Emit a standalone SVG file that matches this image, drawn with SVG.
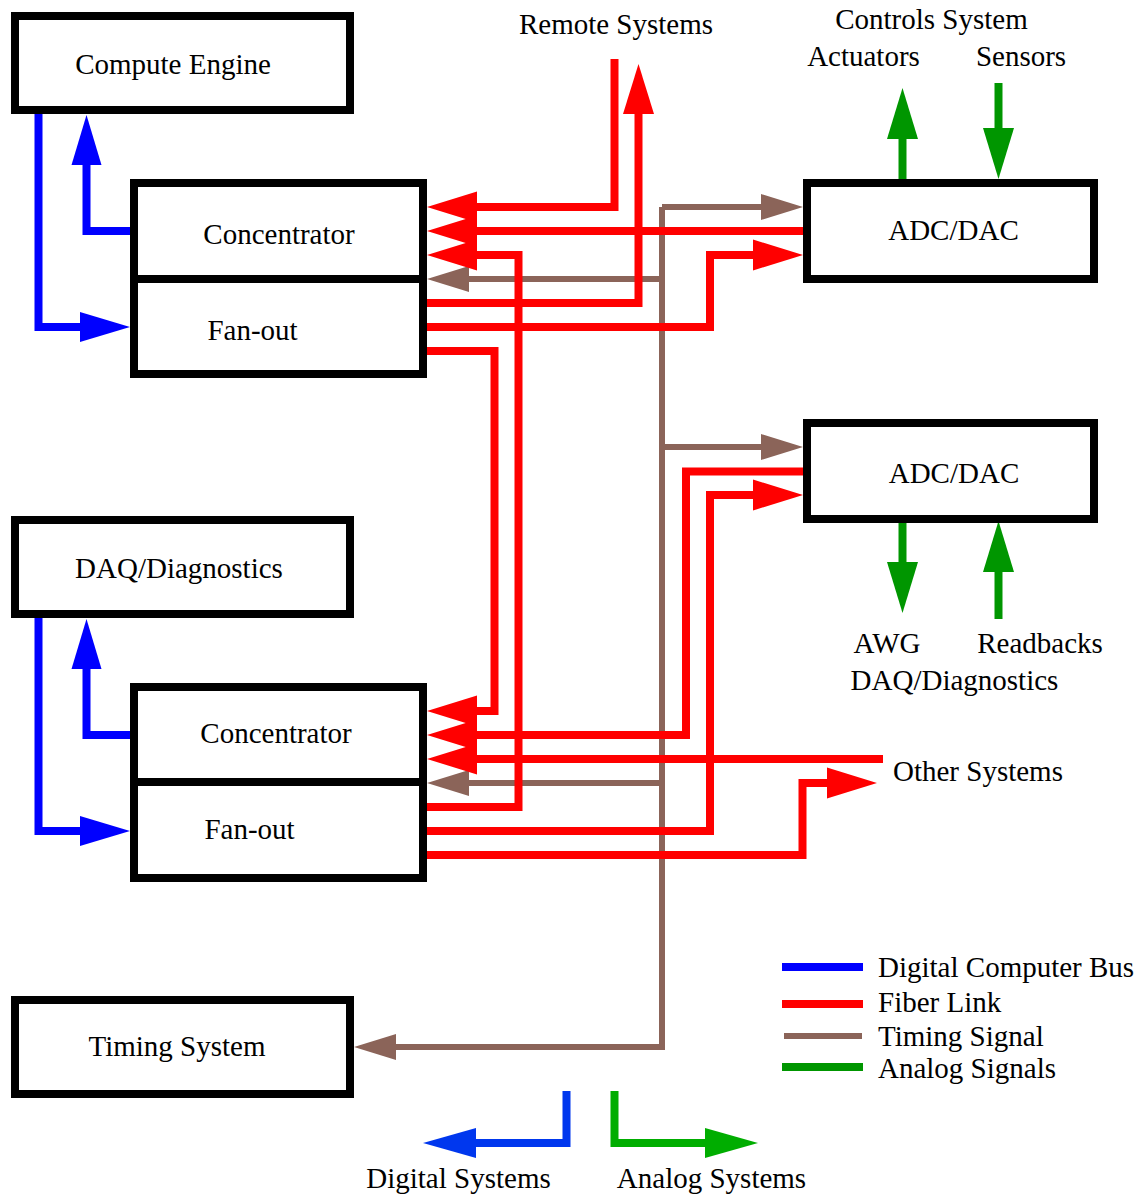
<svg xmlns="http://www.w3.org/2000/svg" width="1146" height="1197" viewBox="0 0 1146 1197">
<style>
  text { font-family: "Liberation Serif", "Times New Roman", serif; font-size: 29px; fill: #000; }
  .c { text-anchor: middle; }
  .box { fill: #fff; stroke: #000; stroke-width: 8; }
  .w { fill: none; stroke-linejoin: miter; stroke-linecap: butt; }
  .red { stroke: #ff0000; stroke-width: 8; marker-end: url(#aR); }
  .blue { stroke: #0000ff; stroke-width: 8; marker-end: url(#aBl); }
  .brown { stroke: #8b6459; stroke-width: 6; }
  .brA { marker-end: url(#aBr); }
  .green { stroke: #009600; stroke-width: 8; marker-end: url(#aG); }
</style>
<defs>
  <marker id="aR" markerUnits="userSpaceOnUse" orient="auto" refX="0" refY="0" markerWidth="60" markerHeight="40" viewBox="0 -20 60 40" overflow="visible"><path d="M0,-15.5 L50,0 L0,15.5 z" fill="#ff0000"/></marker>
  <marker id="aBl" markerUnits="userSpaceOnUse" orient="auto" refX="0" refY="0" markerWidth="60" markerHeight="40" viewBox="0 -20 60 40" overflow="visible"><path d="M0,-15 L50,0 L0,15 z" fill="#0000ff"/></marker>
  <marker id="aBr" markerUnits="userSpaceOnUse" orient="auto" refX="0" refY="0" markerWidth="60" markerHeight="40" viewBox="0 -20 60 40" overflow="visible"><path d="M0,-13 L42,0 L0,13 z" fill="#8b6459"/></marker>
  <marker id="aG" markerUnits="userSpaceOnUse" orient="auto" refX="0" refY="0" markerWidth="60" markerHeight="40" viewBox="0 -20 60 40" overflow="visible"><path d="M0,-15.5 L51,0 L0,15.5 z" fill="#009600"/></marker>
  <marker id="aBl2" markerUnits="userSpaceOnUse" orient="auto" refX="0" refY="0" markerWidth="60" markerHeight="40" viewBox="0 -20 60 40" overflow="visible"><path d="M0,-15 L53,0 L0,15 z" fill="#0037ee"/></marker>
  <marker id="aG2" markerUnits="userSpaceOnUse" orient="auto" refX="0" refY="0" markerWidth="60" markerHeight="40" viewBox="0 -20 60 40" overflow="visible"><path d="M0,-15 L53,0 L0,15 z" fill="#00ad00"/></marker>
</defs>

<g id="connectors">
  <!-- blue digital bus -->
  <path class="w blue" d="M38.5,110 V327 H80"/>
  <path class="w blue" d="M134,231 H86.5 V165"/>
  <path class="w blue" d="M38.5,614 V831 H80"/>
  <path class="w blue" d="M134,735 H86.5 V669"/>
  <!-- brown timing -->
  <path class="w brown" d="M662,207 V1047 H396" style="marker-end:url(#aBr)"/>
  <path class="w brown brA" d="M662,207 H761"/>
  <path class="w brown brA" d="M662,279 H469"/>
  <path class="w brown brA" d="M662,447 H761"/>
  <path class="w brown brA" d="M662,783 H469"/>
  <!-- red fiber -->
  <path class="w red" d="M614.5,59 V207 H477"/>
  <path class="w red" d="M803,231 H477"/>
  <path class="w red" d="M427,807 H518.5 V255 H477"/>
  <path class="w red" d="M427,303 H638.5 V114"/>
  <path class="w red" d="M427,327 H710 V255 H753"/>
  <path class="w red" d="M427,351 H494.5 V711 H477"/>
  <path class="w red" d="M803,471.5 H686 V735 H477"/>
  <path class="w red" d="M883,759 H477"/>
  <path class="w red" d="M427,831 H710 V495 H753"/>
  <path class="w red" d="M427,855 H802.5 V783 H827"/>
  <!-- green analog -->
  <path class="w green" d="M902.5,183 V139"/>
  <path class="w green" d="M998.5,83 V128"/>
  <path class="w green" d="M902.5,519 V562"/>
  <path class="w green" d="M998.5,619 V572"/>
  <!-- bottom -->
  <path class="w" d="M566.5,1091 V1143 H476" stroke="#0037ee" stroke-width="8" marker-end="url(#aBl2)"/>
  <path class="w" d="M614.5,1091 V1143 H705" stroke="#00ad00" stroke-width="8" marker-end="url(#aG2)"/>
</g>

<g id="compute-engine"><rect class="box" x="15" y="16" width="335" height="94"/><text class="c" x="173" y="74">Compute Engine</text></g>
<g id="concentrator-1"><rect class="box" x="134" y="183" width="289" height="96"/><text class="c" x="279" y="244">Concentrator</text></g>
<g id="fanout-1"><rect class="box" x="134" y="279" width="289" height="95"/><text class="c" x="252.5" y="340">Fan-out</text></g>
<g id="adcdac-1"><rect class="box" x="807" y="183" width="287" height="96"/><text class="c" x="953.5" y="240">ADC/DAC</text></g>
<g id="adcdac-2"><rect class="box" x="807" y="423" width="287" height="96"/><text class="c" x="954" y="483">ADC/DAC</text></g>
<g id="daq"><rect class="box" x="15" y="520" width="335" height="94"/><text class="c" x="179" y="578">DAQ/Diagnostics</text></g>
<g id="concentrator-2"><rect class="box" x="134" y="687" width="289" height="95"/><text class="c" x="276" y="743">Concentrator</text></g>
<g id="fanout-2"><rect class="box" x="134" y="782" width="289" height="96"/><text class="c" x="249.5" y="839">Fan-out</text></g>
<g id="timing-system"><rect class="box" x="15" y="1000" width="335" height="94"/><text class="c" x="177" y="1056">Timing System</text></g>

<g id="labels">
  <text class="c" x="616" y="34">Remote Systems</text>
  <text class="c" x="931.5" y="29">Controls System</text>
  <text class="c" x="863.5" y="66">Actuators</text>
  <text class="c" x="1021" y="66">Sensors</text>
  <text class="c" x="887" y="653">AWG</text>
  <text class="c" x="1040" y="653">Readbacks</text>
  <text class="c" x="954.5" y="690">DAQ/Diagnostics</text>
  <text x="893" y="781">Other Systems</text>
  <text class="c" x="458.5" y="1188">Digital Systems</text>
  <text class="c" x="711.5" y="1188">Analog Systems</text>
</g>

<g id="legend">
  <line x1="782" y1="967" x2="863" y2="967" stroke="#0000ff" stroke-width="8"/>
  <line x1="782" y1="1004" x2="863" y2="1004" stroke="#ff0000" stroke-width="8"/>
  <line x1="784" y1="1036" x2="862" y2="1036" stroke="#8b6459" stroke-width="6"/>
  <line x1="782" y1="1067" x2="863" y2="1067" stroke="#009600" stroke-width="8"/>
  <text x="878" y="977">Digital Computer Bus</text>
  <text x="878" y="1012">Fiber Link</text>
  <text x="878" y="1046">Timing Signal</text>
  <text x="878" y="1078">Analog Signals</text>
</g>
</svg>
